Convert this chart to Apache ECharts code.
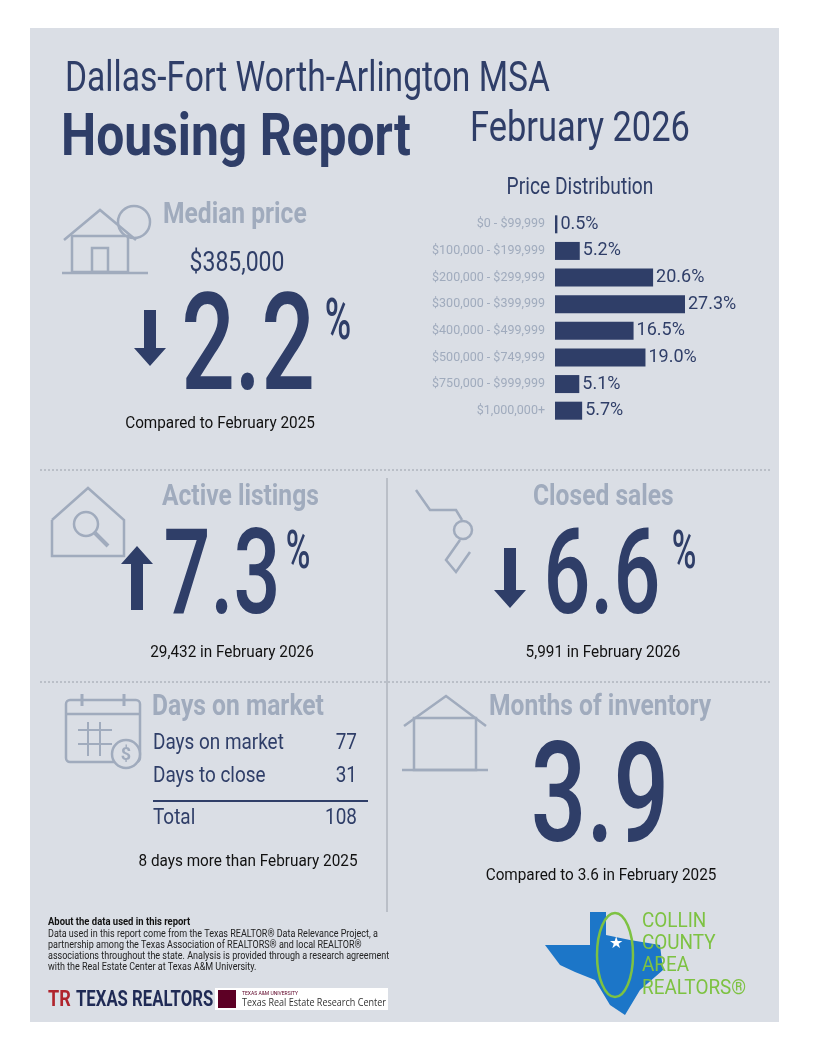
<!DOCTYPE html>
<html><head><meta charset="utf-8">
<script src="https://cdn.jsdelivr.net/npm/echarts@6/dist/echarts.min.js"></script>
<style>html,body{margin:0;padding:0;background:#fff}#c{width:813px;height:1053px}</style>
</head><body><div id="c"></div>
<script>
const categories = ['$0 - $99,999', '$100,000 - $199,999', '$200,000 - $299,999', '$300,000 - $399,999',
  '$400,000 - $499,999', '$500,000 - $749,999', '$750,000 - $999,999', '$1,000,000+'];
const shares = [0.5, 5.2, 20.6, 27.3, 16.5, 19.0, 5.1, 5.7];

const NAVY = '#2f3e68', GRAY = '#a0abbd', BG = '#dadee5';
const F = 'Roboto, "Noto Sans", sans-serif';

const chart = echarts.init(document.getElementById('c'), null, { renderer: 'canvas' });

// condensed look: squeeze text horizontally
function txt(x, y, s, size, color, opts) {
  opts = opts || {};
  return { type: 'text', x: x, y: y, z: 10, scaleX: opts.sx || 0.82, style: {
    text: s, fontSize: size, fill: color, fontFamily: opts.font || F,
    fontWeight: opts.bold ? 'bold' : (opts.w || 'normal'), align: opts.align || 'left', verticalAlign: 'middle' } };
}
function line(x1, y1, x2, y2, color, w, dash) {
  return { type: 'line', z: 5, shape: { x1: x1, y1: y1, x2: x2, y2: y2 },
    style: { stroke: color, lineWidth: w || 1, lineDash: dash || null } };
}
function arrow(x, yTop, yBot, up) {
  const head = 18, hw = 16;
  const pts = up
    ? [[x, yTop], [x + hw, yTop + head], [x + 6, yTop + head], [x + 6, yBot], [x - 6, yBot], [x - 6, yTop + head], [x - hw, yTop + head]]
    : [[x, yBot], [x + hw, yBot - head], [x + 6, yBot - head], [x + 6, yTop], [x - 6, yTop], [x - 6, yBot - head], [x - hw, yBot - head]];
  return { type: 'polygon', z: 10, shape: { points: pts }, style: { fill: NAVY } };
}
const ico = { stroke: GRAY, lineWidth: 2.5, fill: 'none' };
const BIG = { align: 'center', sx: 0.7, w: 500 };
const PCT = { align: 'center', sx: 0.62, w: 500 };
const SUB = { align: 'center', sx: 0.9 };
const HEAD = { bold: true, sx: 0.82 };

const graphics = [
  { type: 'rect', z: 0, shape: { x: 30, y: 28, width: 749, height: 994 }, style: { fill: BG } },
  txt(65, 80, 'Dallas-Fort Worth-Arlington MSA', 42, NAVY, { sx: 0.8 }),
  txt(61, 140, 'Housing Report', 60, NAVY, { bold: true, sx: 0.83 }),
  txt(470, 130, 'February 2026', 42, NAVY, { sx: 0.82 }),
  txt(580, 188, 'Price Distribution', 24, NAVY, { align: 'center', sx: 0.8 }),

  // median price
  { type: 'polyline', z: 6, shape: { points: [[64, 240], [100, 210], [136, 240]] }, style: ico },
  { type: 'rect', z: 6, shape: { x: 72, y: 236, width: 56, height: 36 }, style: ico },
  { type: 'rect', z: 6, shape: { x: 92, y: 248, width: 16, height: 24 }, style: ico },
  { type: 'circle', z: 6, shape: { cx: 134, cy: 222, r: 16 }, style: ico },
  line(62, 273, 148, 273, GRAY, 2.5),
  txt(163, 215, 'Median price', 30, GRAY, HEAD),
  txt(237, 264, '$385,000', 28, NAVY, { align: 'center' }),
  arrow(150, 310, 366, false),
  txt(248, 355, '2.2', 135, NAVY, BIG),
  txt(338, 324, '%', 58, NAVY, PCT),
  txt(220, 424, 'Compared to February 2025', 17, '#111', SUB),

  line(40, 470, 770, 470, '#9aa0aa', 1, [2, 2]),
  line(387, 478, 387, 912, '#9aa0aa', 1),
  line(40, 682, 770, 682, '#9aa0aa', 1, [2, 2]),

  // active listings
  { type: 'polyline', z: 6, shape: { points: [[52, 520], [88, 488], [124, 520], [124, 556], [52, 556], [52, 520]] }, style: ico },
  { type: 'circle', z: 6, shape: { cx: 86, cy: 524, r: 12 }, style: ico },
  line(95, 533, 108, 546, GRAY, 4),
  txt(162, 497, 'Active listings', 30, GRAY, HEAD),
  arrow(137, 546, 610, true),
  txt(222, 583, '7.3', 118, NAVY, BIG),
  txt(298, 554, '%', 54, NAVY, PCT),
  txt(232, 653, '29,432 in February 2026', 17, '#111', SUB),

  // closed sales
  { type: 'polyline', z: 6, shape: { points: [[416, 490], [430, 510], [456, 510], [462, 520]] }, style: ico },
  { type: 'circle', z: 6, shape: { cx: 463, cy: 530, r: 9 }, style: ico },
  { type: 'polyline', z: 6, shape: { points: [[460, 540], [446, 560], [456, 572], [470, 552]] }, style: ico },
  txt(533, 497, 'Closed sales', 30, GRAY, HEAD),
  arrow(510, 548, 608, false),
  txt(602, 583, '6.6', 118, NAVY, BIG),
  txt(684, 554, '%', 54, NAVY, PCT),
  txt(603, 653, '5,991 in February 2026', 17, '#111', SUB),

  // days on market
  { type: 'rect', z: 6, shape: { x: 66, y: 700, width: 74, height: 62, r: 4 }, style: ico },
  line(66, 714, 140, 714, GRAY, 2.5),
  line(82, 694, 82, 706, GRAY, 3), line(124, 694, 124, 706, GRAY, 3),
  line(78, 730, 112, 730, GRAY, 2), line(78, 744, 112, 744, GRAY, 2),
  line(88, 722, 88, 756, GRAY, 2), line(100, 722, 100, 756, GRAY, 2),
  { type: 'circle', z: 7, shape: { cx: 126, cy: 754, r: 14 }, style: { stroke: GRAY, lineWidth: 2.5, fill: BG } },
  txt(126, 755, '$', 18, GRAY, { align: 'center', bold: true, sx: 1 }),
  txt(152, 707, 'Days on market', 30, GRAY, HEAD),
  txt(153, 743, 'Days on market', 22, NAVY, { sx: 0.86 }), txt(357, 743, '77', 22, NAVY, { align: 'right', sx: 0.86 }),
  txt(153, 776, 'Days to close', 22, NAVY, { sx: 0.86 }), txt(357, 776, '31', 22, NAVY, { align: 'right', sx: 0.86 }),
  line(153, 801, 368, 801, NAVY, 2),
  txt(153, 818, 'Total', 22, NAVY, { sx: 0.86 }), txt(357, 818, '108', 22, NAVY, { align: 'right', sx: 0.86 }),
  txt(248, 862, '8 days more than February 2025', 17, '#111', SUB),

  // months of inventory
  { type: 'polyline', z: 6, shape: { points: [[404, 726], [446, 696], [486, 726]] }, style: ico },
  { type: 'rect', z: 6, shape: { x: 414, y: 718, width: 62, height: 52 }, style: ico },
  line(402, 770, 488, 770, GRAY, 2.5),
  txt(489, 707, 'Months of inventory', 30, GRAY, HEAD),
  txt(600, 806, '3.9', 140, NAVY, BIG),
  txt(601, 876, 'Compared to 3.6 in February 2025', 17, '#111', SUB),

  // footer
  txt(48, 922, 'About the data used in this report', 11, '#111', { bold: true, sx: 0.86 }),
  txt(48, 934, 'Data used in this report come from the Texas REALTOR® Data Relevance Project, a', 10, '#222', { sx: 0.9 }),
  txt(48, 945, 'partnership among the Texas Association of REALTORS® and local REALTOR®', 10, '#222', { sx: 0.9 }),
  txt(48, 956, 'associations throughout the state. Analysis is provided through a research agreement', 10, '#222', { sx: 0.9 }),
  txt(48, 967, 'with the Real Estate Center at Texas A&M University.', 10, '#222', { sx: 0.9 }),
  txt(48, 1000, 'TR', 22, '#b0242d', { bold: true }),
  txt(76, 1000, 'TEXAS REALTORS', 22, '#1f2a55', { bold: true, sx: 0.76 }),
  { type: 'rect', z: 6, shape: { x: 215, y: 988, width: 173, height: 22 }, style: { fill: '#fff' } },
  { type: 'rect', z: 7, shape: { x: 218, y: 990, width: 18, height: 18 }, style: { fill: '#5d0025' } },
  txt(242, 994, 'TEXAS A&M UNIVERSITY', 5, '#5d0025', { sx: 1 }),
  txt(242, 1003, 'Texas Real Estate Research Center', 11, '#333', { font: 'Open Sans', sx: 0.82 }),
  { type: 'polygon', z: 6, shape: { points: [[590, 912], [606, 912], [606, 935], [630, 940], [660, 945], [663, 970], [640, 990], [625, 1015], [610, 1005], [595, 980], [575, 972], [560, 965], [545, 945], [590, 945]] }, style: { fill: '#1c76c8' } },
  { type: 'ellipse', z: 7, shape: { cx: 615, cy: 955, rx: 18, ry: 42 }, style: { stroke: '#7dc242', lineWidth: 2.5, fill: 'none' } },
  txt(616, 944, '★', 16, '#fff', { align: 'center', sx: 1 }),
  txt(642, 922, 'COLLIN', 21, '#7dc242', { sx: 0.9 }),
  txt(642, 944, 'COUNTY', 21, '#7dc242', { sx: 0.9 }),
  txt(642, 966, 'AREA', 21, '#7dc242', { sx: 0.9 }),
  txt(642, 989, 'REALTORS®', 21, '#7dc242', { sx: 0.9 })
];

chart.setOption({
  animation: false,
  graphic: graphics,
  grid: { left: 555, top: 211, width: 130, height: 213 },
  xAxis: { type: 'value', min: 0, max: 27.3, show: false },
  yAxis: {
    type: 'category', inverse: true, data: categories,
    axisLine: { show: false }, axisTick: { show: false },
    axisLabel: { color: GRAY, fontSize: 12.5, fontFamily: F, margin: 10 }
  },
  series: [{
    type: 'bar', data: shares, barWidth: 18, barMinWidth: 2,
    itemStyle: { color: NAVY },
    label: { show: true, position: 'right', distance: 3, color: NAVY, fontSize: 18, fontFamily: F,
      formatter: p => p.value.toFixed(1) + '%' }
  }]
});
</script></body></html>
